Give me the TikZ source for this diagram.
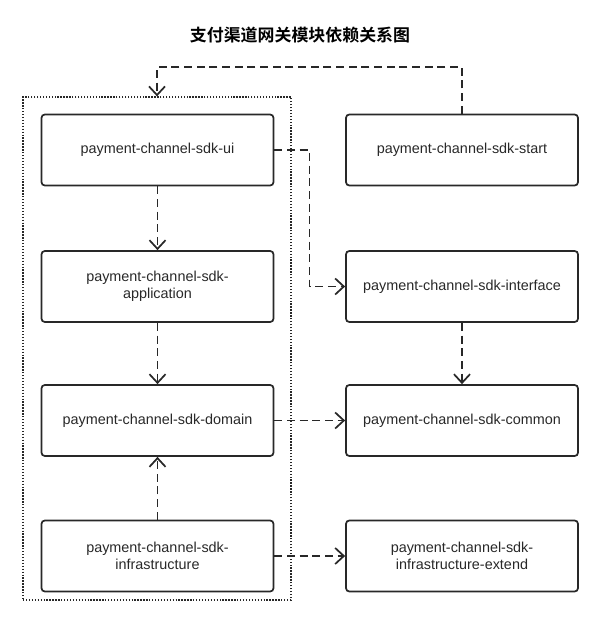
\documentclass[tikz,border=0pt]{standalone}
\usepackage{fontspec}
\setmainfont{Liberation Sans}
\newfontfamily\cjkbold[BoldFont={Noto Sans CJK SC Bold}]{Noto Sans CJK SC}
\usetikzlibrary{arrows.meta}

\definecolor{linegray}{RGB}{40,40,40}

\begin{document}
\begin{tikzpicture}[x=0.75pt,y=0.75pt,yscale=-1,xscale=1,
  module/.style={draw=linegray, line width=1.3pt, rounded corners=2.5pt,
    minimum width=174pt, minimum height=53.25pt, inner sep=0pt,
    align=center, font=\fontsize{10.8}{13}\selectfont, text=linegray},
  depend/.style={draw=linegray, line width=1.3pt, dash pattern=on 6pt off 3.5pt,
    -{Straight Barb[length=6.5pt,width=12pt,line width=1.3pt]}},
  group/.style={draw=linegray, line width=1pt, dash pattern=on 1pt off 1.2pt,
    minimum width=201pt, minimum height=377.25pt, inner sep=0pt}]
%set diagram left start at 0, and has height of 619
\useasboundingbox (0,0) rectangle (599,619);

% Title
\node (title) at (300,35) {\cjkbold\bfseries\fontsize{12.7}{15}\selectfont 支付渠道网关模块依赖关系图};

% Group
\node (grp) [group] at (157,348.5) {};

% Text Node
\node (ui) [module] at (157.5,150) {payment-channel-sdk-ui};
% Text Node
\node (app) [module] at (157.5,286.5) {payment-channel-sdk-\\application};
% Text Node
\node (domain) [module] at (157.5,420.5) {payment-channel-sdk-domain};
% Text Node
\node (infra) [module] at (157.5,556) {payment-channel-sdk-\\infrastructure};
% Text Node
\node (start) [module] at (462,150) {payment-channel-sdk-start};
% Text Node
\node (iface) [module] at (462,286.5) {payment-channel-sdk-interface};
% Text Node
\node (common) [module] at (462,420.5) {payment-channel-sdk-common};
% Text Node
\node (extend) [module] at (462,556) {payment-channel-sdk-\\infrastructure-extend};

\coordinate (bend) at (157,67);

% Connection
\draw [depend] (start.north) |- (bend) -- (grp.north);
% Connection
\draw [depend] (ui.east) -- ++(35,0) |- (iface.west);
% Connection
\draw [depend] (ui) -- (app);
% Connection
\draw [depend] (app) -- (domain);
% Connection
\draw [depend] (infra) -- (domain);
% Connection
\draw [depend] (domain) -- (common);
% Connection
\draw [depend] (infra) -- (extend);
% Connection
\draw [depend] (iface) -- (common);

\end{tikzpicture}
\end{document}
